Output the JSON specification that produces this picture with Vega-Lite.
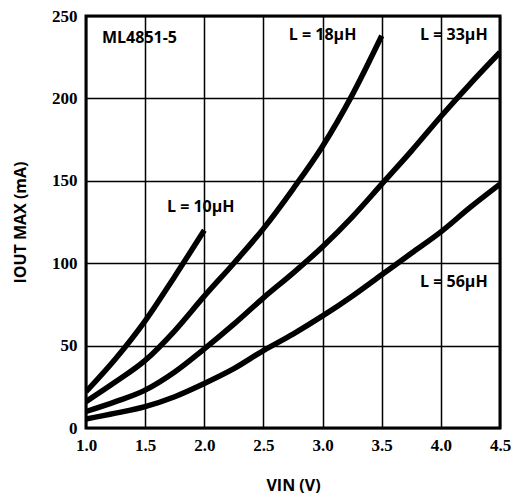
{
  "$schema": "https://vega.github.io/schema/vega-lite/v6.json",
  "width": 414,
  "height": 412,
  "autosize": "none",
  "padding": {"left": 86, "top": 16, "right": 21, "bottom": 68},
  "background": "white",
  "config": {
    "view": {"stroke": "black", "strokeWidth": 3},
    "axis": {
      "grid": true,
      "gridColor": "black",
      "gridWidth": 1.5,
      "gridOpacity": 1,
      "domain": false,
      "ticks": false,
      "labelFlush": false,
      "labelFont": "Liberation Serif",
      "labelFontWeight": "bold",
      "labelFontSize": 17,
      "labelColor": "black",
      "titleFont": "Open Sans",
      "titleFontWeight": "bold",
      "titleFontSize": 16,
      "titleColor": "black"
    }
  },
  "datasets": {
    "curves": [
      {"L": "10", "v": 1.0, "i": 22},
      {"L": "10", "v": 1.25, "i": 42},
      {"L": "10", "v": 1.5, "i": 65},
      {"L": "10", "v": 1.75, "i": 92},
      {"L": "10", "v": 2.0, "i": 120},
      {"L": "18", "v": 1.0, "i": 16},
      {"L": "18", "v": 1.25, "i": 28},
      {"L": "18", "v": 1.5, "i": 41},
      {"L": "18", "v": 1.75, "i": 59},
      {"L": "18", "v": 2.0, "i": 80},
      {"L": "18", "v": 2.25, "i": 100},
      {"L": "18", "v": 2.5, "i": 121},
      {"L": "18", "v": 2.75, "i": 145},
      {"L": "18", "v": 3.0, "i": 171},
      {"L": "18", "v": 3.25, "i": 202},
      {"L": "18", "v": 3.5, "i": 238},
      {"L": "33", "v": 1.0, "i": 10},
      {"L": "33", "v": 1.25, "i": 16},
      {"L": "33", "v": 1.5, "i": 23},
      {"L": "33", "v": 1.75, "i": 34},
      {"L": "33", "v": 2.0, "i": 48},
      {"L": "33", "v": 2.25, "i": 63},
      {"L": "33", "v": 2.5, "i": 79},
      {"L": "33", "v": 2.75, "i": 94},
      {"L": "33", "v": 3.0, "i": 110},
      {"L": "33", "v": 3.25, "i": 128},
      {"L": "33", "v": 3.5, "i": 148},
      {"L": "33", "v": 3.75, "i": 168},
      {"L": "33", "v": 4.0, "i": 189},
      {"L": "33", "v": 4.25, "i": 209},
      {"L": "33", "v": 4.5, "i": 228},
      {"L": "56", "v": 1.0, "i": 5.5},
      {"L": "56", "v": 1.25, "i": 9},
      {"L": "56", "v": 1.5, "i": 13},
      {"L": "56", "v": 1.75, "i": 19},
      {"L": "56", "v": 2.0, "i": 27},
      {"L": "56", "v": 2.25, "i": 36},
      {"L": "56", "v": 2.5, "i": 47},
      {"L": "56", "v": 2.75, "i": 57},
      {"L": "56", "v": 3.0, "i": 68},
      {"L": "56", "v": 3.25, "i": 80},
      {"L": "56", "v": 3.5, "i": 93},
      {"L": "56", "v": 3.75, "i": 106},
      {"L": "56", "v": 4.0, "i": 119},
      {"L": "56", "v": 4.25, "i": 134},
      {"L": "56", "v": 4.5, "i": 148}
    ],
    "labels": [
      {"text": "L = 10µH", "v": 1.97, "i": 134},
      {"text": "L = 18µH", "v": 3.0, "i": 238.5},
      {"text": "L = 33µH", "v": 4.11, "i": 238.5},
      {"text": "L = 56µH", "v": 4.11, "i": 88.8}
    ],
    "part": [
      {"text": "ML4851-5", "v": 1.135, "i": 236.6}
    ]
  },
  "layer": [
    {
      "data": {"name": "curves"},
      "mark": {"type": "line", "interpolate": "monotone", "color": "black", "strokeWidth": 5.5, "strokeCap": "butt", "clip": true},
      "encoding": {
        "x": {
          "field": "v", "type": "quantitative",
          "scale": {"domain": [1.0, 4.5], "nice": false, "zero": false},
          "axis": {"values": [1.0, 1.5, 2.0, 2.5, 3.0, 3.5, 4.0, 4.5], "format": ".1f", "labelPadding": 9, "title": "VIN (V)", "titlePadding": 24}
        },
        "y": {
          "field": "i", "type": "quantitative",
          "scale": {"domain": [0, 250], "nice": false},
          "axis": {"values": [0, 50, 100, 150, 200, 250], "labelPadding": 9, "title": "IOUT MAX (mA)", "titlePadding": 23}
        },
        "detail": {"field": "L"}
      }
    },
    {
      "data": {"name": "labels"},
      "mark": {"type": "text", "font": "Open Sans", "fontWeight": "bold", "fontSize": 16, "color": "black", "align": "center", "baseline": "middle"},
      "encoding": {
        "x": {"field": "v", "type": "quantitative"},
        "y": {"field": "i", "type": "quantitative"},
        "text": {"field": "text"}
      }
    },
    {
      "data": {"name": "part"},
      "mark": {"type": "text", "font": "Open Sans", "fontWeight": "bold", "fontSize": 16, "color": "black", "align": "left", "baseline": "middle"},
      "encoding": {
        "x": {"field": "v", "type": "quantitative"},
        "y": {"field": "i", "type": "quantitative"},
        "text": {"field": "text"}
      }
    }
  ]
}
